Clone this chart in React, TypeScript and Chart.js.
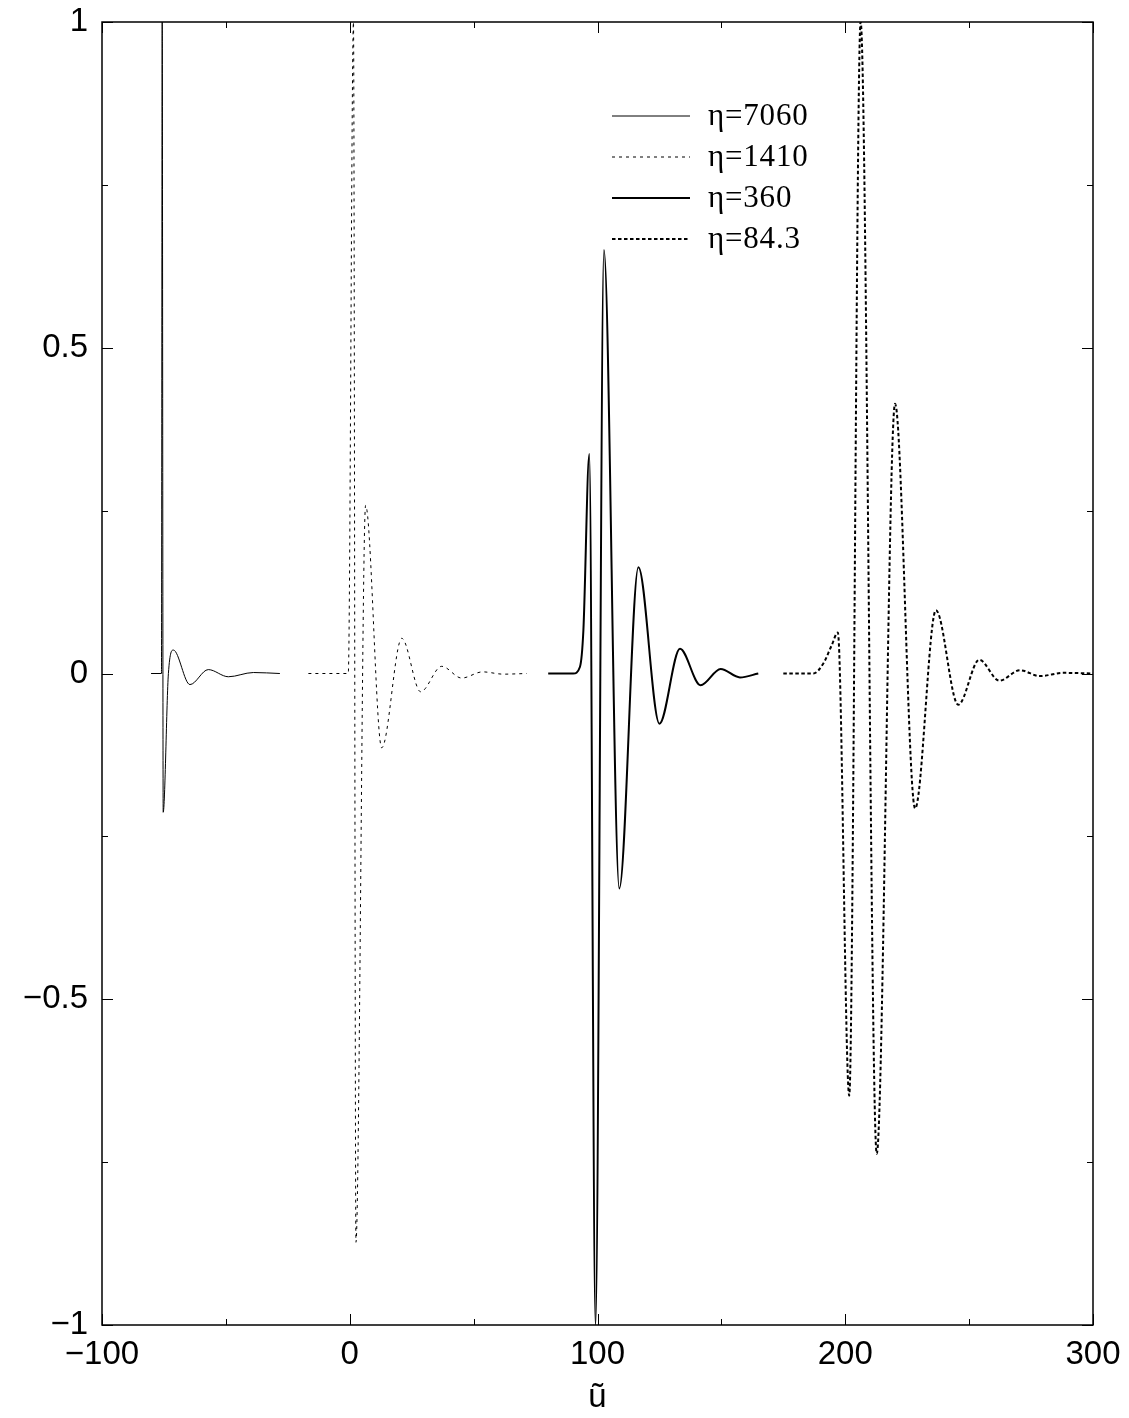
import React, { useEffect, useRef } from "react";
import { Chart, registerables } from "chart.js";

Chart.register(...registerables);

// ---- data ----
const seriesLabels = ["η=7060", "η=1410", "η=360", "η=84.3"];

const u7060 = [-80.2, -76.0, -75.7, -75.3, -73.2, -71.2, -64.5, -57.1, -49.0, -38.9, -28.2];
const v7060 = [0, 0, 1.0, -0.213, 0, 0.036, -0.017, 0.006, -0.005, 0.0015, 0];

const u1410 = [-16.7, -0.6, 1.5, 2.5, 6.4, 12.9, 21.0, 28.6, 37.1, 45.2, 53.6, 62.0, 71.4];
const v1410 = [0, 0, 1.0, -0.873, 0.258, -0.114, 0.054, -0.028, 0.011, -0.007, 0.0025, -0.001, 0];

const u360 = [80.1, 90.2, 92.9, 94.3, 96.7, 99.2, 102.6, 108.8, 116.5, 125.0, 133.3, 141.6, 149.7, 157.5, 164.9];
const v360 = [0, 0, 0.01, 0.066, 0.337, -1.0, 0.65, -0.33, 0.163, -0.077, 0.038, -0.018, 0.007, -0.006, 0];

const u843 = [175.0, 187.1, 191.1, 194.5, 197.0, 201.6, 206.2, 212.7, 220.1, 228.2, 236.6, 245.6, 254.1, 262.2, 270.5, 278.6, 288.0, 300];
const v843 = [0, 0, 0.015, 0.043, 0.063, -0.648, 1.0, -0.737, 0.414, -0.207, 0.097, -0.048, 0.021, -0.011, 0.005, -0.004, 0.001, 0];

const xMajorTicks = [-100, 0, 100, 200, 300];
const xMinorTicks = [-50, 50, 150, 250];
const yMajorTicks = [-1, -0.5, 0, 0.5, 1];
const yMinorTicks = [-0.75, -0.25, 0.25, 0.75];

const xTitle = "ũ";

const toPoints = (xs: number[], ys: number[]) => xs.map((x, i) => ({ x, y: ys[i] }));

const SANS = '"Liberation Sans", Arial, Helvetica, sans-serif';
const SERIF = '"Liberation Serif", "Times New Roman", serif';

const framePlugin = {
  id: "frameTicksLegend",
  afterDraw(chart: any) {
    const { ctx, chartArea: a, scales } = chart;
    const xs = scales.x;
    const ys = scales.y;
    const line = (x1: number, y1: number, x2: number, y2: number) => {
      ctx.beginPath();
      ctx.moveTo(x1, y1);
      ctx.lineTo(x2, y2);
      ctx.stroke();
    };
    ctx.save();
    ctx.strokeStyle = "#000";
    ctx.lineWidth = 1.5;
    ctx.setLineDash([]);
    ctx.strokeRect(a.left, a.top, a.right - a.left, a.bottom - a.top);
    ctx.lineWidth = 1;
    const major = 11;
    const minor = 6;
    const xt = (v: number, len: number) => {
      const p = Math.round(xs.getPixelForValue(v)) + 0.5;
      line(p, a.bottom, p, a.bottom - len);
      line(p, a.top, p, a.top + len);
    };
    const yt = (v: number, len: number) => {
      const p = Math.round(ys.getPixelForValue(v)) + 0.5;
      line(a.left, p, a.left + len, p);
      line(a.right, p, a.right - len, p);
    };
    xMajorTicks.forEach((v) => xt(v, major));
    xMinorTicks.forEach((v) => xt(v, minor));
    yMajorTicks.forEach((v) => yt(v, major));
    yMinorTicks.forEach((v) => yt(v, minor));

    // legend
    ctx.font = `31px ${SERIF}`;
    try {
      (ctx as any).letterSpacing = "0.8px";
    } catch (e) {}
    ctx.fillStyle = "#000";
    ctx.textBaseline = "middle";
    ctx.textAlign = "left";
    chart.data.datasets.forEach((ds: any, i: number) => {
      const yy = 116 + i * 41;
      ctx.lineWidth = ds.borderWidth;
      ctx.setLineDash(ds.borderDash || []);
      line(612, yy, 690, yy);
      ctx.setLineDash([]);
      ctx.fillText(ds.label, 708, yy + 1);
    });
    try {
      (ctx as any).letterSpacing = "0px";
    } catch (e) {}
    ctx.restore();
  },
};

const fmt = (v: any) => String(v).replace("-", "−");

export default function App() {
  const ref = useRef<HTMLCanvasElement | null>(null);
  useEffect(() => {
    document.body.style.margin = "0";
    const canvas = ref.current;
    if (!canvas) return;
    const chart = new Chart(canvas, {
      type: "line",
      data: {
        datasets: [
          {
            label: seriesLabels[0],
            data: toPoints(u7060, v7060),
            borderColor: "#000",
            borderWidth: 1,
            borderDash: [],
          },
          {
            label: seriesLabels[1],
            data: toPoints(u1410, v1410),
            borderColor: "#000",
            borderWidth: 1,
            borderDash: [3, 4],
          },
          {
            label: seriesLabels[2],
            data: toPoints(u360, v360),
            borderColor: "#000",
            borderWidth: 2,
            borderDash: [],
          },
          {
            label: seriesLabels[3],
            data: toPoints(u843, v843),
            borderColor: "#000",
            borderWidth: 2,
            borderDash: [3.5, 2.5],
          },
        ] as any,
      },
      options: {
        animation: false,
        responsive: false,
        devicePixelRatio: 1,
        layout: { padding: { left: 0, top: 22, right: 36, bottom: 0 } },
        elements: {
          point: { radius: 0, hoverRadius: 0 },
          line: { cubicInterpolationMode: "monotone", fill: false },
        },
        plugins: {
          legend: { display: false },
          tooltip: { enabled: false },
        },
        events: [],
        scales: {
          x: {
            type: "linear",
            min: -100,
            max: 300,
            border: { display: false },
            grid: { display: false, drawTicks: false },
            ticks: {
              stepSize: 100,
              padding: 10,
              color: "#000",
              font: { family: SANS, size: 33 },
              callback: (v: any) => fmt(v),
              maxRotation: 0,
            },
            title: {
              display: true,
              text: xTitle,
              color: "#000",
              font: { family: SANS, size: 33 },
              padding: { top: 0, bottom: 0 },
            },
            afterFit: (s: any) => {
              s.height = 93;
              s.paddingLeft = 0;
              s.paddingRight = 0;
            },
          },
          y: {
            type: "linear",
            min: -1,
            max: 1,
            border: { display: false },
            grid: { display: false, drawTicks: false },
            ticks: {
              stepSize: 0.5,
              padding: 14,
              color: "#000",
              font: { family: SANS, size: 33 },
              callback: (v: any) => fmt(v),
            },
            afterFit: (s: any) => {
              s.width = 102;
              s.paddingTop = 0;
              s.paddingBottom = 0;
            },
          },
        },
      } as any,
      plugins: [framePlugin],
    });
    return () => chart.destroy();
  }, []);
  return (
    <canvas
      ref={ref}
      width={1129}
      height={1418}
      style={{ display: "block", width: "1129px", height: "1418px" }}
    />
  );
}
